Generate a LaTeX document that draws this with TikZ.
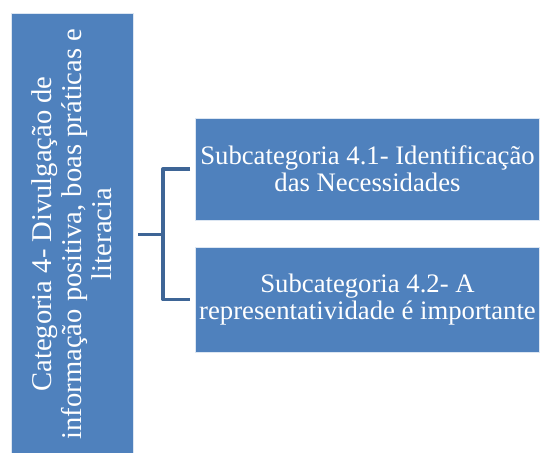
\documentclass[tikz,border=0pt]{standalone}
\usepackage{fontspec}
\setmainfont{Liberation Serif}
\usetikzlibrary{calc}
\definecolor{boxblue}{HTML}{4F81BD}
\definecolor{brkblue}{HTML}{3E6596}
\tikzset{cat/.style={rectangle,draw=white!80!boxblue,line width=0.8pt,fill=boxblue,text=white,inner sep=2pt,align=center},brk/.style={draw=brkblue,line width=3.5pt,line join=round}}
\begin{document}
\begin{tikzpicture}[x=1pt,y=-1pt]
  \useasboundingbox (0,0) rectangle (540,452);
  \node[cat,rotate=90,minimum width=442pt,minimum height=122pt,font=\fontsize{28.6}{30}\selectfont] (c4) at (72,234) {Categoria 4- Divulgação de\\informação positiva, boas práticas e\\literacia};
  \node[cat,minimum width=344pt,minimum height=102pt,font=\fontsize{26.7}{27}\selectfont] (s1) at (367.5,169) {Subcategoria 4.1- Identificação\\das Necessidades};
  \node[cat,minimum width=344pt,minimum height=105pt,font=\fontsize{26.7}{27}\selectfont] (s2) at (367.5,299.5) {Subcategoria 4.2- A\\representatividade é importante};
  \coordinate (j) at ($(s1.west)!0.5!(s2.west)+(-32,0)$);
  \draw[brk,shorten <=5pt] (c4.south |- j) -- (j);
  \draw[brk,shorten <=5pt,shorten >=5pt] (s1.west) -| (j) |- (s2.west);
\end{tikzpicture}
\end{document}
